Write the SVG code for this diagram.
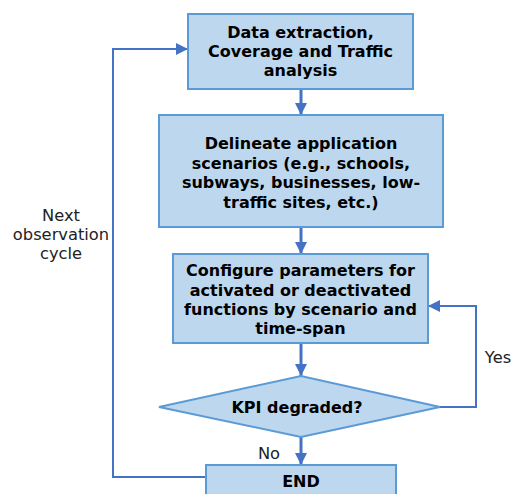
<svg xmlns="http://www.w3.org/2000/svg" width="513" height="494" viewBox="0 0 513 494">
<style>
.box{fill:#BDD7EE;stroke:#5B9BD5;stroke-width:2}
.t{font-family:"DejaVu Sans",sans-serif;font-weight:bold;font-size:16px;fill:#000;text-anchor:middle}
.l{font-family:"DejaVu Sans",sans-serif;font-size:16.3px;fill:#222;text-anchor:middle}
.c{fill:none;stroke:#4472C4}
.m{stroke-width:3}
.s{stroke-width:2}
</style>
<defs>
<marker id="ah" markerWidth="12" markerHeight="12" viewBox="0 0 12 12" refX="12" refY="6" orient="auto" markerUnits="userSpaceOnUse">
<path d="M0,0 L12,6 L0,12 Z" fill="#4472C4"/>
</marker>
</defs>
<rect width="513" height="494" fill="#fff"/>
<g id="connectors">
<line class="c m" x1="301" y1="89" x2="301" y2="115" marker-end="url(#ah)"/>
<line class="c m" x1="301" y1="227" x2="301" y2="254" marker-end="url(#ah)"/>
<line class="c m" x1="301" y1="343" x2="301" y2="376" marker-end="url(#ah)"/>
<line class="c m" x1="301" y1="437" x2="301" y2="465" marker-end="url(#ah)"/>
<polyline class="c s" points="440,407 476,407 476,306 428,306" marker-end="url(#ah)"/>
<polyline class="c s" points="206,477 113,477 113,49 188,49" marker-end="url(#ah)"/>
<text class="l" x="498" y="363">Yes</text>
<text class="l" x="269" y="459">No</text>
<text class="l" x="61" y="221">Next</text>
<text class="l" x="61" y="240">observation</text>
<text class="l" x="61" y="259">cycle</text>
</g>
<g id="n1">
<rect class="box" x="188" y="14" width="225" height="75"/>
<text class="t" x="300.5" y="38">Data extraction,</text>
<text class="t" x="300.5" y="57">Coverage and Traffic</text>
<text class="t" x="300.5" y="76">analysis</text>
</g>
<g id="n2">
<rect class="box" x="159" y="115" width="284" height="112"/>
<text class="t" x="301" y="149">Delineate application</text>
<text class="t" x="301" y="168.5">scenarios (e.g., schools,</text>
<text class="t" x="301" y="188">subways, businesses, low-</text>
<text class="t" x="301" y="207.5">traffic sites, etc.)</text>
</g>
<g id="n3">
<rect class="box" x="173" y="254" width="255" height="89"/>
<text class="t" x="300.5" y="276">Configure parameters for</text>
<text class="t" x="300.5" y="295.5">activated or deactivated</text>
<text class="t" x="300.5" y="314.5">functions by scenario and</text>
<text class="t" x="300.5" y="334">time-span</text>
</g>
<g id="n4">
<polygon class="box" points="159,407 301,376 440,407 301,437"/>
<text class="t" x="297" y="413">KPI degraded?</text>
</g>
<g id="n5">
<rect class="box" x="206" y="465" width="190" height="40"/>
<text class="t" x="301" y="487">END</text>
</g>
</svg>
